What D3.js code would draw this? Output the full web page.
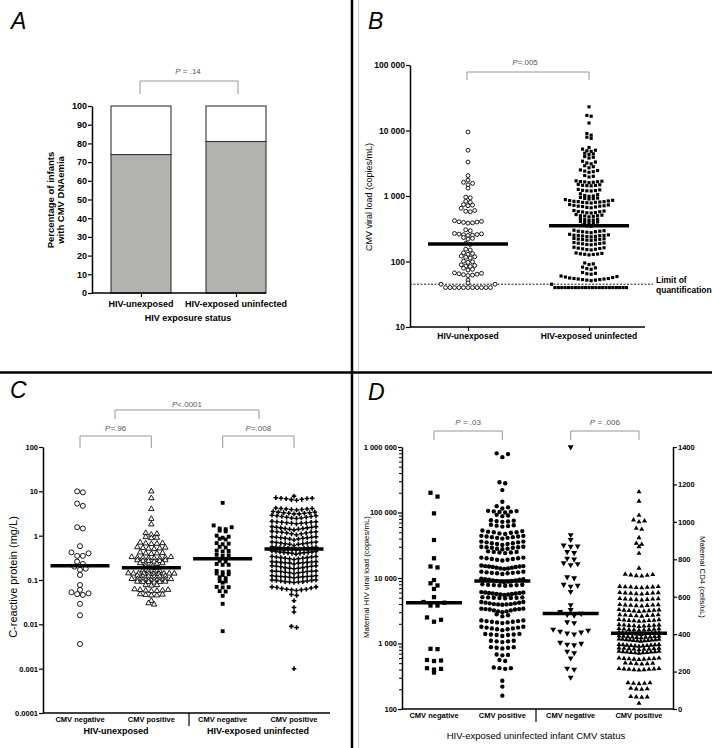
<!DOCTYPE html>
<html><head><meta charset="utf-8">
<script src="https://cdn.jsdelivr.net/npm/d3@7"></script>
<style>
body{margin:0;background:#fff;}
svg{display:block;font-family:"Liberation Sans",Arial,sans-serif;}
</style></head><body>
<svg id="fig" width="712" height="748"></svg>
<script>
// ---------------- DATA ----------------
// Panel A
const A_categories = ["HIV-unexposed", "HIV-exposed uninfected"];
const A_positivePct = [74, 81];
const A_yTicks = [0, 10, 20, 30, 40, 50, 60, 70, 80, 90, 100];

// Panel B (CMV viral load, copies/mL) rows of points
const B_categories = ["HIV-unexposed", "HIV-exposed uninfected"];
const B_yTicks = [10, 100, 1000, 10000, 100000];
const B_medians = [185, 350];
const B_loq = 45;
const B_unexposedRows = [
  [9500],[5000],[3300],[2050],[1750],[1620,1560,1480],[1320],
  [960,940],[830,800],[740,725,710],[650,600,585,575],
  [420,410,400,390,385,395,405],
  [305,295],
  [268,262,256,250,252,258,264],
  [232,226,220],
  [190,182],
  [154,150],
  [136,132,129],
  [121,118,116,113],
  [101,99,97],
  [89,87,85,84],
  [79,76,74],
  [67,66,64,62,61,63,65],
  [52],
  [47],
  [45,40,40,40,40,40,40,40,40,40,40,40,45]
];
const B_exposedRows = [
  [23000],[17000,16500],[13000],[9000,8500],[7900,7600],
  [5500],[5200,5000,4900,4800],[4500,4400,4300],[4000,3900,3800],
  [3400,3300,3200,3100],[2900,2800,2700],
  [2500,2450,2400,2350,2300],[2050,2000,1950],
  [1700,1680,1660,1640,1620,1600,1650],
  [1500,1480,1460,1450,1440,1430],
  [1260,1240,1220,1200,1190,1210],
  [1080,1050,1020,1000,990],
  [950,930,920,910,900],
  [880,860,850,840,830,820,820,810,800,800,790,780],
  [740,730,720,710,700,700,690,680,670,660],
  [600,590,580,575,570,560,555,550],
  [520,510,500,500,495,490,480],
  [450,440,435,430,425],
  [410,400,395,390,385],
  [360,355,350,345],
  [300,295,290,290,285,285,280,275],
  [260,255,252,250,250,248,245,242,240,238],
  [225,222,220,218,216,214,212,210],
  [195,192,190,188,186,184,182,180],
  [165,162,160,158,156,154,152,150],
  [135,133,131,130,129,128,126],
  [95,92,90],[82,80,78,76],[68,66,65,64],
  [60,59,58,57,56,55,55,54,54,53,53,52,52,51],
  [45,40,40,40,40,40,40,40,40,40,40,40,40,40,40,40,40,40,40,40,40,40,40]
];

// Panel C (C-reactive protein, mg/L)
const C_tickLabels = ["CMV negative", "CMV positive", "CMV negative", "CMV positive"];
const C_groupLabels = ["HIV-unexposed", "HIV-exposed  uninfected"];
const C_yTicks = [0.0001, 0.001, 0.01, 0.1, 1, 10, 100];
const C_medians = [0.21, 0.19, 0.30, 0.50];
const C_unexpNegRows = [
  [10,9.5],[5.3,4.7],[1.55,1.45],[0.58],[0.42,0.40,0.35,0.35],[0.26,0.23],
  [0.2,0.18,0.17],[0.13],[0.077],[0.06],[0.053,0.05,0.048,0.046],[0.029],[0.016],[0.0036]
];
const C_unexpPosRows = [
  [10],[7],[4],[2.4],[1.8],[1.15,1.1,1.05],[0.93,0.9,0.88],[0.7,0.68,0.66,0.65,0.67],
  [0.55,0.53,0.52,0.51,0.5,0.54],[0.42,0.41,0.4,0.39,0.4],
  [0.33,0.32,0.32,0.31,0.31,0.32,0.33,0.31],[0.28,0.27,0.27,0.26,0.27,0.28],
  [0.24,0.23,0.23,0.22,0.24],[0.2,0.19,0.19],[0.16,0.16,0.155,0.165],
  [0.14,0.14,0.14,0.138,0.138,0.14,0.142,0.14,0.136,0.14],
  [0.125,0.12,0.12,0.118,0.122,0.12],
  [0.105,0.104,0.1,0.1,0.102,0.104,0.106,0.1],
  [0.092,0.09,0.09,0.088,0.09,0.092],[0.077,0.075,0.077],
  [0.06,0.058,0.057,0.056,0.058,0.06,0.062],[0.047,0.045,0.045,0.046,0.048],
  [0.034],[0.03,0.028]
];
const C_heuNegRows = [
  [5.5],[1.7,1.55,1.45,1.4],[1.3,1.25],[1.0,0.95,0.9],[0.85,0.82],[0.68,0.66,0.64],
  [0.56,0.54],[0.46,0.45,0.44],[0.37,0.36,0.35],[0.27,0.26],[0.23,0.22,0.22],
  [0.16,0.155,0.15],[0.14,0.135,0.13],[0.115,0.11],[0.095,0.093],[0.087],
  [0.07,0.069,0.068],[0.056,0.055],[0.044],[0.029],[0.007]
];
const C_heuPosRows = [
  [7.8],
  [7.2,7.0,6.8,6.5,6.3,6.6,6.9,7.0],
  [4.2,4.1,4.0,3.9,3.8,3.9,4.0,4.1],
  [3.5,3.4,3.3,3.2,3.1,3.1,3.2,3.3,3.4],
  [2.9,2.8,2.7,2.6,2.5,2.45,2.5,2.6,2.7,2.8],
  [2.1,2.05,2.0,1.95,1.9,1.85,1.9,1.95,2.0,2.05],
  [1.6,1.55,1.5,1.45,1.4,1.35,1.4,1.45,1.5,1.55,1.6],
  [1.25,1.22,1.2,1.15,1.1,1.05,1.1,1.15,1.2,1.22],
  [0.95,0.92,0.9,0.87,0.84,0.8,0.84,0.87,0.9,0.92,0.95],
  [0.72,0.7,0.68,0.66,0.64,0.6,0.64,0.66,0.68,0.7,0.72],
  [0.56,0.55,0.54,0.53,0.52,0.5,0.48,0.5,0.52,0.53,0.54,0.55],
  [0.45,0.44,0.43,0.42,0.41,0.4,0.38,0.4,0.41,0.42,0.43,0.44],
  [0.34,0.33,0.32,0.31,0.3,0.29,0.3,0.31,0.32,0.33,0.34],
  [0.26,0.255,0.25,0.245,0.24,0.23,0.24,0.245,0.25,0.255,0.26],
  [0.21,0.205,0.2,0.19,0.185,0.18,0.185,0.19,0.2,0.205,0.21],
  [0.16,0.158,0.155,0.15,0.145,0.14,0.145,0.15,0.155,0.158,0.16],
  [0.125,0.122,0.12,0.118,0.115,0.112,0.115,0.118,0.12,0.122,0.125],
  [0.1,0.098,0.095,0.092,0.09,0.088,0.09,0.092,0.095,0.098,0.1],
  [0.07,0.068,0.064,0.062,0.06,0.058,0.06,0.062,0.066,0.07],
  [0.047,0.045],[0.034],[0.024],[0.019],[0.009,0.0085],[0.001]
];

// Panel D
const D_tickLabels = ["CMV negative", "CMV positive", "CMV negative", "CMV positive"];
const D_leftTicks = [100, 1000, 10000, 100000, 1000000];
const D_rightTicks = [0, 200, 400, 600, 800, 1000, 1200, 1400];
const D_medians = [4200, 9000, 510, 405]; // first two: HIV viral load, last two: CD4
const D_vlNegRows = [
  [200000,175000],[97000],[38000],[20000],[15000,14500],[9300],[8300,7700],[6800],[5100],
  [4300,4200,3800,3800],[2500,2300,2150],[830,820],[560,550,540],[420,410,400],[360]
];
const D_vlPosRows = [
  [800000,780000,700000],[290000,280000],[220000],[146000],[125000,120000,115000],
  [106000,104000,102000,100000,103000,105000],[92000,90000,88000],
  [76000,74000,72000,73000,75000],[65000,63000,61000,62000,64000],
  [52000,50000,48000,47000,49000,51000,53000,50000],
  [44000,43000,42000,41000,40000,41000,42000,43000,44000],
  [36000,35000,34000,33000,32000,33000,34000,35000,36000],
  [30000,29500,29000,28000,27500,28000,29000,29500,30000],
  [25500,25000,24500,24000,24500,25000],
  [20500,20000,19500,19000,18500,19000,19500,20000,20500],
  [15500,15200,15000,14700,14400,14000,13800,14000,14400,14700,15000,15200],
  [12500,12200,12000,11800,11500,11800,12000,12200,12500],
  [9800,9600,9400,9200,9000,8800,8600,8800,9000,9200,9400,9600],
  [8000,7900,7800,7700,7600,7700,7800,7900],
  [6100,6000,5900,5800,5700,5600,5500,5600,5700,5800,5900,6000],
  [5100,5050,5000,4950,4900,4950,5000,5050],
  [4300,4200,4100,4000,3950,3900,3950,4000,4100,4200,4300],
  [3400,3350,3300,3200,3100,3000,3100,3200,3300,3350,3400],
  [2800,2700,2600],
  [2250,2200,2150,2100,2050,2100,2150,2200,2250],
  [1800,1750,1700,1650,1600,1650,1700,1750,1800],
  [1400,1370,1350,1300,1350,1370,1400],
  [1100,1080,1050,1080,1100],[880,860,840,860,880],[680,670,660],[560,540],
  [430,420,410,420],[270],[220],[160]
];
const D_cd4NegRows = [
  [1400],[930],[905],[875,870,868],[840,835],[805,800],[780,775,770],[705,700],
  [665,660,655],[627],[556],[530],[520,510,505,500],[465,460],
  [425,420,415,410,405,400],[355,350,345,342],[308,300],[272],[217,212],[169]
];
const D_cd4PosRows = [
  [1160],[1110],[1035],[1010,1005,1000],[965,960],[915],[885,880],[867],[832],[752],
  [720,716,714,712,710,718],
  [655,653,651,649,647,650,652,654],
  [622,620,618,616,614,617,619,621],
  [590,588,586,584,582,585,587,589],
  [558,556,554,552,550,553,555,557],
  [531,529,527,525,523,521,524,526,528],
  [504,502,500,498,496,499,501,503],
  [478,476,474,472,470,468,471,473,475],
  [451,449,447,445,443,441,444,446,448],
  [430,428,426,424,422,420,423,425,427],
  [410,408,406,404,402,400,398,401,403,405,407,409],
  [388,386,384,382,380,383,385,387,389,391],
  [372,370,368,366,364,362,364,366,368,370,372,374],
  [345,343,341,339,337,335,337,339,341,343,345],
  [325,323,321,319,317,320,322,324,326],
  [308,306,304,302,300,298,300,302,304,306,308],
  [272,270,268,266,264,266,268,270,272],
  [246,244,242,240,242,244],
  [216,214,212,210,208,210,212,214,216],
  [140,137,135,137,140],[110,107,105,108],[66,64,62,64],[30]
];

// ---------------- HELPERS ----------------
const svg = d3.select("#fig");
const FONT = '"Liberation Sans", Arial, sans-serif';

function layoutRows(rows, y, cx, spacing, maxW) {
  const pts = [];
  rows.forEach(row => {
    const n = row.length;
    const sp = n > 1 ? Math.min(spacing, maxW / (n - 1)) : 0;
    const slots = d3.range(n).map(i => (i - (n - 1) / 2) * sp);
    slots.sort((a, b) => Math.abs(a) - Math.abs(b) || b - a);
    const sorted = row.slice().sort((a, b) => a - b);
    sorted.forEach((v, i) => pts.push({v, x: cx + slots[i], y: y(v)}));
  });
  return pts;
}
function drawPoints(g, pts, type, size, filled, rotate) {
  const sym = d3.symbol().type(type).size(size);
  g.selectAll(null).data(pts).join("path")
    .attr("d", sym)
    .attr("transform", d => `translate(${d.x},${d.y})` + (rotate ? " rotate(180)" : ""))
    .attr("fill", filled ? "#000" : "#fff")
    .attr("stroke", filled ? "none" : "#000")
    .attr("stroke-width", 0.9);
}
function median(g, x, y, half) {
  g.append("line").attr("x1", x - half).attr("x2", x + half).attr("y1", y).attr("y2", y)
    .attr("stroke", "#000").attr("stroke-width", 3.5);
}
function styleAxis(g, fs) {
  g.select(".domain").attr("stroke", "#000").attr("stroke-width", 1.5);
  g.selectAll(".tick line").attr("stroke", "#000").attr("stroke-width", 1.2);
  g.selectAll(".tick text").attr("font-size", fs).attr("font-weight", "bold")
    .attr("fill", "#000").attr("font-family", FONT);
}
function bracket(x1, x2, yTop, yBot) {
  svg.append("path").attr("d", `M${x1},${yBot}V${yTop}H${x2}V${yBot}`)
    .attr("fill", "none").attr("stroke", "#8a8a8a").attr("stroke-width", 0.9);
}
function pLabel(x, y, rest, fs) {
  const t = svg.append("text").attr("x", x).attr("y", y).attr("text-anchor", "middle")
    .attr("font-size", fs).attr("fill", "#555");
  t.append("tspan").attr("font-style", "italic").text("P");
  t.append("tspan").text(rest);
}
function text(x, y, s, fs, opts = {}) {
  const t = svg.append("text").attr("x", x).attr("y", y).text(s)
    .attr("font-size", fs).attr("text-anchor", opts.anchor || "middle")
    .attr("font-weight", opts.bold ? "bold" : "normal")
    .attr("font-style", opts.italic ? "italic" : "normal")
    .attr("fill", opts.fill || "#000");
  if (opts.rotate) t.attr("transform", `rotate(${opts.rotate},${x},${y})`);
  return t;
}
const fmtSpace = d => d3.format(",")(d).replace(/,/g, " ");

// ---------------- FRAME ----------------
svg.append("rect").attr("width", 712).attr("height", 748).attr("fill", "#fff");
svg.append("line").attr("x1", 358.5).attr("x2", 358.5).attr("y1", 0).attr("y2", 748)
  .attr("stroke", "#d0d0d0").attr("stroke-width", 1);
svg.append("line").attr("x1", 352).attr("x2", 352).attr("y1", 0).attr("y2", 748)
  .attr("stroke", "#000").attr("stroke-width", 2.5);
svg.append("line").attr("x1", 0).attr("x2", 712).attr("y1", 372.5).attr("y2", 372.5)
  .attr("stroke", "#000").attr("stroke-width", 2.5);

text(11, 29, "A", 23, {anchor: "start", italic: true});
text(368, 29, "B", 23, {anchor: "start", italic: true});
text(10, 398, "C", 23, {anchor: "start", italic: true});
text(368, 400, "D", 23, {anchor: "start", italic: true});

// ---------------- PANEL A ----------------
{
  const y = d3.scaleLinear().domain([0, 100]).range([293, 106]);
  const x = d3.scalePoint().domain(A_categories).range([141, 236]);
  const bw = 60;
  const g = svg.append("g");
  A_categories.forEach((c, i) => {
    g.append("rect").attr("x", x(c) - bw / 2).attr("width", bw)
      .attr("y", y(100)).attr("height", y(A_positivePct[i]) - y(100))
      .attr("fill", "#fff").attr("stroke", "#333").attr("stroke-width", 1.1);
    g.append("rect").attr("x", x(c) - bw / 2).attr("width", bw)
      .attr("y", y(A_positivePct[i])).attr("height", y(0) - y(A_positivePct[i]))
      .attr("fill", "#b2b2ae").attr("stroke", "#333").attr("stroke-width", 1.1);
  });
  const ax = svg.append("g").attr("transform", "translate(92,0)")
    .call(d3.axisLeft(y).tickValues(A_yTicks).tickSize(4).tickSizeOuter(0).tickPadding(1));
  styleAxis(ax, 9);
  const bx = svg.append("g").attr("transform", "translate(0,293)")
    .call(d3.axisBottom(x).tickSize(4).tickSizeOuter(0).tickFormat(""));
  bx.select(".domain").attr("d", "M92,0H266");
  styleAxis(bx, 9);
  A_categories.forEach(c => text(x(c), 307, c, 9, {bold: true}));
  text(188, 321, "HIV exposure status", 9, {bold: true});
  text(53.5, 200, "Percentage of infants", 9.5, {bold: true, rotate: -90});
  text(63.5, 200, "with CMV DNAemia", 9.5, {bold: true, rotate: -90});
  bracket(x(A_categories[0]) - 1, x(A_categories[1]) + 2, 81, 94);
  pLabel(188, 74, " = .14", 8);
}

// ---------------- PANEL B ----------------
{
  const y = d3.scaleLog().domain([10, 100000]).range([327, 65]);
  const x = d3.scalePoint().domain(B_categories).range([468, 589]);
  const ax = svg.append("g").attr("transform", "translate(410,0)")
    .call(d3.axisLeft(y).tickValues(B_yTicks).tickFormat(fmtSpace).tickSize(4).tickSizeOuter(0).tickPadding(1));
  styleAxis(ax, 8.5);
  const bx = svg.append("g").attr("transform", "translate(0,327)")
    .call(d3.axisBottom(x).tickSize(4).tickSizeOuter(0).tickFormat(""));
  bx.select(".domain").attr("d", "M410,0H645");
  styleAxis(bx, 8);
  B_categories.forEach(c => text(x(c), 339, c, 8.5, {bold: true}));
  svg.append("line").attr("x1", 410).attr("x2", 653).attr("y1", y(B_loq)).attr("y2", y(B_loq))
    .attr("stroke", "#000").attr("stroke-width", 0.9).attr("stroke-dasharray", "2,1.5");
  text(656, 283, "Limit of", 8.5, {anchor: "start", bold: true});
  text(656, 293, "quantification", 8.5, {anchor: "start", bold: true});
  text(372, 197, "CMV viral load (copies/mL)", 9, {rotate: -90});
  const g = svg.append("g");
  drawPoints(g, layoutRows(B_unexposedRows, y, x(B_categories[0]), 4.5, 56), d3.symbolCircle, 12, false);
  drawPoints(g, layoutRows(B_exposedRows, y, x(B_categories[1]), 4.3, 75), d3.symbolSquare, 10, true);
  B_categories.forEach((c, i) => median(g, x(c), y(B_medians[i]), 40));
  bracket(x(B_categories[0]) - 1, x(B_categories[1]), 72, 80);
  pLabel(525, 65, "=.005", 8);
}

// ---------------- PANEL C ----------------
{
  const y = d3.scaleLog().domain([0.0001, 100]).range([713, 447]);
  const x = d3.scalePoint().domain([0, 1, 2, 3]).range([80, 294]);
  const fmt = d => (d >= 1 ? d3.format("d")(d) : String(d));
  const ax = svg.append("g").attr("transform", "translate(43,0)")
    .call(d3.axisLeft(y).tickValues(C_yTicks).tickFormat(fmt).tickSize(4).tickSizeOuter(0).tickPadding(1));
  styleAxis(ax, 7.5);
  const bx = svg.append("g").attr("transform", "translate(0,713)")
    .call(d3.axisBottom(x).tickSize(0).tickSizeOuter(0).tickFormat(""));
  bx.select(".domain").attr("d", "M43,0H330");
  styleAxis(bx, 7);
  svg.append("line").attr("x1", 189).attr("x2", 189).attr("y1", 713).attr("y2", 726)
    .attr("stroke", "#000").attr("stroke-width", 1.2);
  C_tickLabels.forEach((s, i) => text(x(i), 722, s, 7.5, {bold: true}));
  text(116, 734, C_groupLabels[0], 9, {bold: true});
  text(258, 734, C_groupLabels[1], 9, {bold: true});
  text(17, 577, "C-reactive protein (mg/L)", 11, {rotate: -90});
  const g = svg.append("g");
  drawPoints(g, layoutRows(C_unexpNegRows, y, x(0), 5.7, 40), d3.symbolCircle, 20, false);
  drawPoints(g, layoutRows(C_unexpPosRows, y, x(1), 5.6, 46), d3.symbolTriangle, 13, false);
  drawPoints(g, layoutRows(C_heuNegRows, y, x(2), 6, 40), d3.symbolSquare, 15, true);
  drawPoints(g, layoutRows(C_heuPosRows, y, x(3), 5.2, 44), d3.symbolCross, 12, true);
  [0, 1, 2, 3].forEach(i => median(g, x(i), y(C_medians[i]), 29.5));
  bracket(x(0), x(1), 436, 448);
  pLabel((x(0) + x(1)) / 2, 431, "=.96", 8);
  bracket(x(2), x(3), 436, 448);
  pLabel((x(2) + x(3)) / 2, 431, "=.008", 8);
  bracket(115, 259, 410, 419);
  pLabel(187, 407, "<.0001", 8);
}

// ---------------- PANEL D ----------------
{
  const yL = d3.scaleLog().domain([100, 1000000]).range([709, 447]);
  const yR = d3.scaleLinear().domain([0, 1400]).range([709, 447]);
  const x = d3.scalePoint().domain([0, 1, 2, 3]).range([434, 639]);
  const ax = svg.append("g").attr("transform", "translate(402,0)")
    .call(d3.axisLeft(yL).tickValues(D_leftTicks).tickFormat(fmtSpace).tickSize(4).tickSizeOuter(0).tickPadding(1));
  styleAxis(ax, 7.5);
  const minor = yL.ticks().filter(v => !D_leftTicks.includes(v));
  const mg = svg.append("g").attr("transform", "translate(402,0)")
    .call(d3.axisLeft(yL).tickValues(minor).tickFormat("").tickSize(3).tickSizeOuter(0));
  mg.select(".domain").remove();
  mg.selectAll(".tick line").attr("stroke", "#000").attr("stroke-width", 1);
  const ar = svg.append("g").attr("transform", "translate(673,0)")
    .call(d3.axisRight(yR).tickValues(D_rightTicks).tickFormat(d3.format("d")).tickSize(4).tickSizeOuter(0).tickPadding(1));
  styleAxis(ar, 7.5);
  const bx = svg.append("g").attr("transform", "translate(0,709)")
    .call(d3.axisBottom(x).tickSize(0).tickSizeOuter(0).tickFormat(""));
  bx.select(".domain").attr("d", "M402,0H673");
  styleAxis(bx, 7);
  svg.append("line").attr("x1", 536).attr("x2", 536).attr("y1", 709).attr("y2", 722)
    .attr("stroke", "#000").attr("stroke-width", 1.2);
  D_tickLabels.forEach((s, i) => text(x(i), 718, s, 7.5, {bold: true}));
  text(536, 739, "HIV-exposed uninfected infant CMV status", 9.5, {});
  text(369, 577, "Maternal HIV viral load (copies/mL)", 7.8, {rotate: -90});
  text(700, 577, "Maternal CD4 (cells/uL)", 7.8, {rotate: 90});
  const g = svg.append("g");
  drawPoints(g, layoutRows(D_vlNegRows, yL, x(0), 7, 40), d3.symbolSquare, 18, true);
  drawPoints(g, layoutRows(D_vlPosRows, yL, x(1), 5.7, 42), d3.symbolCircle, 15, true);
  drawPoints(g, layoutRows(D_cd4NegRows, yR, x(2), 7, 40), d3.symbolTriangle, 15, true, true);
  drawPoints(g, layoutRows(D_cd4PosRows, yR, x(3), 5.5, 40), d3.symbolTriangle, 11, true);
  median(g, x(0), yL(D_medians[0]), 28);
  median(g, x(1), yL(D_medians[1]), 28);
  median(g, x(2), yR(D_medians[2]), 28);
  median(g, x(3), yR(D_medians[3]), 28);
  bracket(x(0), x(1), 431, 440);
  pLabel((x(0) + x(1)) / 2, 425, " = .03", 8);
  bracket(x(2), x(3), 431, 440);
  pLabel((x(2) + x(3)) / 2, 425, " = .006", 8);
}
</script>
</body></html>
